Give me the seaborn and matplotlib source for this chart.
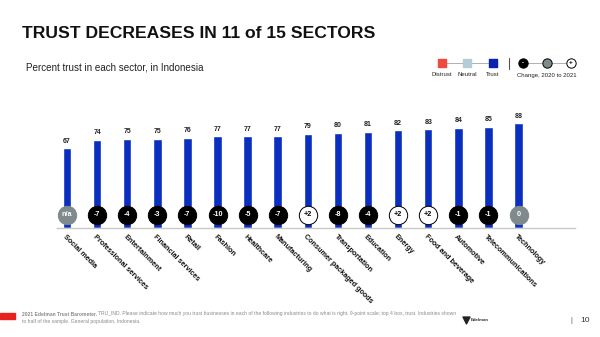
import matplotlib
matplotlib.use("Agg")
import matplotlib.pyplot as plt
import seaborn as sns
import pandas as pd

sectors = ["Social media", "Professional services", "Entertainment", "Financial services",
           "Retail", "Fashion", "Healthcare", "Manufacturing", "Consumer packaged goods",
           "Transportation", "Education", "Energy", "Food and beverage", "Automotive",
           "Telecommunications", "Technology"]
trust = [67, 74, 75, 75, 76, 77, 77, 77, 79, 80, 81, 82, 83, 84, 85, 88]
change = [None, -7, -4, -3, -7, -10, -5, -7, 2, -8, -4, 2, 2, -1, -1, 0]

BLUE = "#0a2ebf"
GREY = "#7f8a8c"

df = pd.DataFrame({"sector": sectors, "trust": trust})

sns.set_theme(style="white")
plt.rcParams["font.family"] = ["Liberation Sans", "DejaVu Sans"]

fig = plt.figure(figsize=(6, 3.37), dpi=100)

# main bar area, bar centres spaced ~30 px apart
ax = fig.add_axes([57 / 600, 1 - 228 / 337, (575 - 57) / 600, 128 / 337])
sns.barplot(data=df, x="sector", y="trust", color=BLUE, width=0.28,
            saturation=1, ax=ax, order=sectors)
ax.set_xlim(-(67 - 57) / 30.1, (575 - 67) / 30.1)
ax.set_ylim(0, 128 / 1.19)
ax.set_xlabel("")
ax.set_ylabel("")
ax.set_yticks([])
ax.set_xticks([])
for s in ["top", "left", "right"]:
    ax.spines[s].set_visible(False)
ax.spines["bottom"].set_color("#c8c8c8")
ax.spines["bottom"].set_linewidth(1.0)

for i, (v, c) in enumerate(zip(trust, change)):
    ax.text(i, v + 3, str(v), ha="center", va="bottom", fontsize=5,
            fontweight="bold", color="#222222")
    if c is None:
        face, edge, tcol, lab = GREY, GREY, "white", "n/a"
    elif c < 0:
        face, edge, tcol, lab = "black", "black", "white", str(c)
    elif c > 0:
        face, edge, tcol, lab = "white", "black", "black", f"+{c}"
    else:
        face, edge, tcol, lab = GREY, GREY, "white", "0"
    ax.scatter([i], [11], s=175, facecolor=face, edgecolor=edge, linewidths=0.7,
               zorder=5, clip_on=False)
    ax.text(i, 11, lab, ha="center", va="center", fontsize=5.2,
            fontweight="bold", color=tcol, zorder=6)
    ax.text(i - 0.1, -6.5, sectors[i], rotation=-45, rotation_mode="anchor",
            ha="left", va="center", fontsize=5.2, fontweight="bold",
            color="#111111", clip_on=False)

# titles
fig.text(22 / 600, 1 - 33 / 337, "TRUST DECREASES IN 11 of 15 SECTORS",
         fontsize=12.6, fontweight="bold", color="#111111", va="center")
fig.text(26 / 600, 1 - 68 / 337, "Percent trust in each sector, in Indonesia",
         fontsize=7.1, color="#222222", va="center")

# legend
lg = fig.add_axes([0, 0, 1, 1], facecolor="none")
lg.set_xlim(0, 600)
lg.set_ylim(337, 0)
lg.axis("off")
lg.plot([442, 493], [63, 63], color="#b0b0b0", lw=0.7, zorder=1)
for x, col, lab in [(442, "#ee4b3e", "Distrust"), (467, "#b4ccd6", "Neutral"),
                    (493, "#0a22b0", "Trust")]:
    lg.scatter([x], [63], marker="s", s=28, color=col, zorder=2)
    lg.text(x, 75, lab, ha="center", va="center", fontsize=4.3, color="#222222")
lg.plot([509, 509], [58, 69], color="#555555", lw=0.8)
lg.plot([523, 571], [63, 63], color="#b0b0b0", lw=0.7, zorder=1)
for x, face, tc, lab in [(523, "black", "white", "-"), (547, GREY, "white", ""),
                         (571, "white", "black", "+")]:
    lg.scatter([x], [63], s=45, facecolor=face, edgecolor="black", linewidths=0.7,
               zorder=2)
    lg.text(x, 63, lab, ha="center", va="center", fontsize=4.5, color=tc,
            fontweight="bold", zorder=3)
lg.text(547, 75, "Change, 2020 to 2021", ha="center", va="center", fontsize=4.3,
        color="#222222")

# footer
lg.add_patch(plt.Rectangle((0, 313), 15, 6, color="#e8231f"))
src = lg.text(22, 314, "2021 Edelman Trust Barometer.", fontsize=3.6,
              fontweight="bold", color="#8a8a8a", va="center")
fig.canvas.draw()
bb = src.get_window_extent(renderer=fig.canvas.get_renderer())
x_after = bb.x1 * 600 / fig.bbox.width + 1.5
lg.text(x_after, 314, "TRU_IND. Please indicate how much you trust businesses in each "
        "of the following industries to do what is right. 9-point scale; top 4 box, "
        "trust. Industries shown", fontsize=3.6, color="#8a8a8a", va="center")
lg.text(22, 322, "to half of the sample. General population, Indonesia.",
        fontsize=3.6, color="#8a8a8a", va="center")
lg.scatter([466], [320], marker="v", s=25, color="#222222")
lg.text(471, 320, "Edelman", fontsize=3.2, fontweight="bold", color="#333333",
        va="center")
lg.text(570, 320, "|", fontsize=5, color="#555555", va="center")
lg.text(580, 320, "10", fontsize=6, color="#333333", va="center")

fig.savefig("out.png", dpi=100)
